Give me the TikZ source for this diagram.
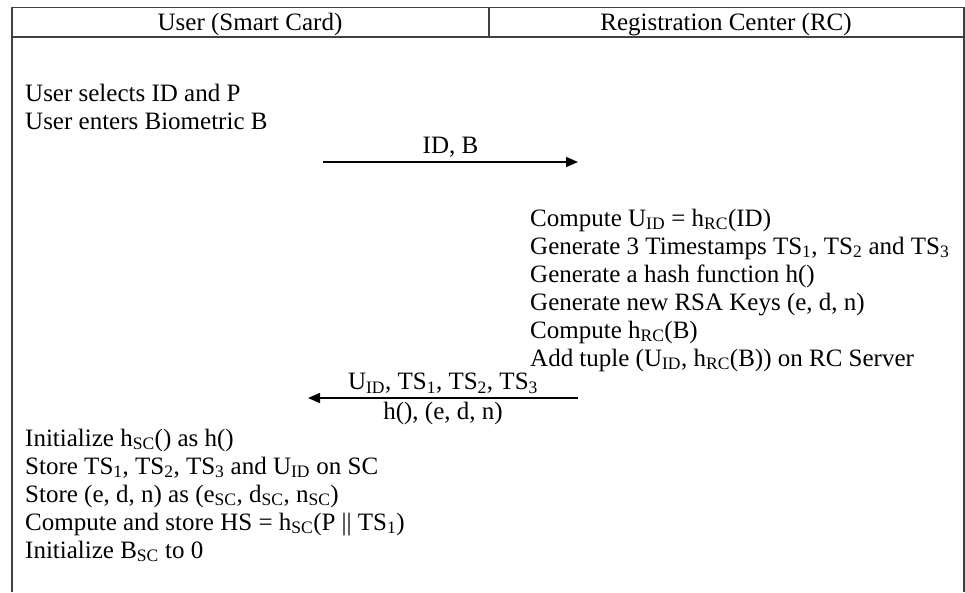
\documentclass[tikz,border=0pt]{standalone}
\usepackage{fontspec}
\setmainfont{Liberation Serif}
\usepackage{tikz}
\usetikzlibrary{arrows.meta, positioning}
\newcommand{\sbs}[1]{\textsubscript{#1}}

\begin{document}
\begin{tikzpicture}[x=1pt, y=-1pt,
	frame/.style={draw=black!75, line width=1.4pt},
	block/.style={anchor=base west, align=left, inner sep=0, font=\fontsize{25}{28}\selectfont},
	head/.style={anchor=base, inner sep=0, font=\fontsize{25}{28}\selectfont},
	msg/.style={inner sep=3.5pt, font=\fontsize{25}{28}\selectfont},
	arrow/.style={-{Triangle[length=12pt, width=10pt]}, line width=1.6pt}
	]
	\useasboundingbox (0,0) rectangle (965,592);
	
	% Frame
	\draw[frame] (12,592) -- (12,7.5) -- (964,7.5) -- (964,592);
	\draw[frame] (12,37) -- (964,37);
	\draw[frame] (489,7.5) -- (489,37);
	
	% Header
	\node[head] (user) at (250,30) {User (Smart Card)};
	\node[head] (rc) at (726,30) {Registration Center (RC)};
	
	% User side (anchored on last line)
	\node[block] (select) at (25,129) {User selects ID and P\\User enters Biometric B};
	
	% RC side
	\node[block] (compute) at (530,366) {Compute U\sbs{ID} = h\sbs{RC}(ID)\\
		Generate 3 Timestamps TS\sbs{1}, TS\sbs{2} and TS\sbs{3}\\
		Generate a hash function h()\\
		Generate new RSA Keys (e, d, n)\\
		Compute h\sbs{RC}(B)\\
		Add tuple (U\sbs{ID}, h\sbs{RC}(B)) on RC Server};
	
	% Smart card storage
	\node[block] (store) at (25,558) {Initialize h\sbs{SC}() as h()\\
		Store TS\sbs{1}, TS\sbs{2}, TS\sbs{3} and U\sbs{ID} on SC\\
		Store (e, d, n) as (e\sbs{SC}, d\sbs{SC}, n\sbs{SC})\\
		Compute and store HS = h\sbs{SC}(P || TS\sbs{1})\\
		Initialize B\sbs{SC} to 0};
	
	% Messages
	\coordinate (m1s) at (323,162);
	\coordinate (m1e) at (578,162);
	\coordinate (m2s) at (578,398);
	\coordinate (m2e) at (308,398);
	\draw[arrow] (m1s) -- node[msg, above] (idb) {ID, B} (m1e);
	\draw[arrow] (m2s) -- node[msg, above] (ts) {U\sbs{ID}, TS\sbs{1}, TS\sbs{2}, TS\sbs{3}}
		node[msg, below] (keys) {h(), (e, d, n)} (m2e);
	
\end{tikzpicture}
\end{document}
